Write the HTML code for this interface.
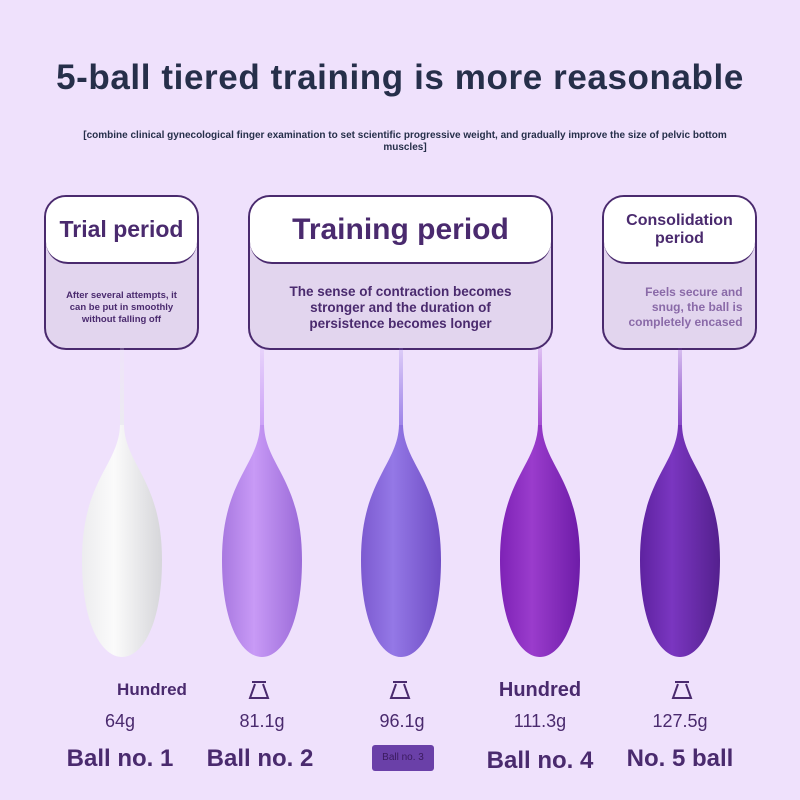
<!DOCTYPE html>
<html><head><meta charset="utf-8"><style>
body{margin:0;width:800px;height:800px;background:#efe1fc;font-family:"Liberation Sans",sans-serif;position:relative;overflow:hidden}
.t{position:absolute;text-align:center;color:#262f4a;font-weight:bold}
.box{position:absolute;top:195px;height:151px;border:2px solid #4a2a6e;border-radius:22px;background:#e2d5ee;overflow:hidden}
.hd{position:absolute;left:0;right:0;top:0;height:65px;background:#fff;border-bottom:2px solid #4a2a6e;border-radius:0 0 22px 22px;display:flex;align-items:center;justify-content:center;text-align:center;color:#4a2a6e;font-weight:bold}
.bd{position:absolute;left:0;right:0;top:70px;bottom:0;display:flex;align-items:center;justify-content:center;text-align:center;font-weight:bold;color:#4a2a6e}
.l{position:absolute;color:#4a2a6e;text-align:center;transform:translateX(-50%);white-space:nowrap}
</style></head><body>
<div class="t" style="left:0;width:800px;top:58px;font-size:35px;letter-spacing:0.6px">5-ball tiered training is more reasonable</div>
<div class="t" style="left:30px;width:750px;top:130px;font-size:10px;line-height:12px">[combine clinical gynecological finger examination to set scientific progressive weight, and gradually improve the size of pelvic bottom<br>muscles]</div>
<div class="box" style="left:44px;width:151px"><div class="hd" style="font-size:23px">Trial period</div><div class="bd" style="font-size:9.5px;line-height:12px">After several attempts, it<br>can be put in smoothly<br>without falling off</div></div>
<div class="box" style="left:248px;width:301px"><div class="hd" style="font-size:30px">Training period</div><div class="bd" style="font-size:13.5px;line-height:16px">The sense of contraction becomes<br>stronger and the duration of<br>persistence becomes longer</div></div>
<div class="box" style="left:602px;width:151px"><div class="hd" style="font-size:16px;line-height:18px">Consolidation<br>period</div><div class="bd" style="font-size:12px;line-height:15px;color:#8a6aa8;text-align:right;padding-left:12px">Feels secure and<br>snug, the ball is<br>completely encased</div></div>
<svg width="800" height="800" style="position:absolute;left:0;top:0">
<defs>
<linearGradient id="g1" x1="0" x2="1"><stop offset="0" stop-color="#ececee"/><stop offset=".4" stop-color="#fbfbfb"/><stop offset="1" stop-color="#d6d6da"/></linearGradient>
<linearGradient id="g2" x1="0" x2="1"><stop offset="0" stop-color="#a878e0"/><stop offset=".4" stop-color="#c89af6"/><stop offset="1" stop-color="#9a6ad8"/></linearGradient>
<linearGradient id="g3" x1="0" x2="1"><stop offset="0" stop-color="#7c5ad0"/><stop offset=".4" stop-color="#9478e6"/><stop offset="1" stop-color="#6e4cc4"/></linearGradient>
<linearGradient id="g4" x1="0" x2="1"><stop offset="0" stop-color="#7e22b6"/><stop offset=".4" stop-color="#9a3ccc"/><stop offset="1" stop-color="#6e1ca8"/></linearGradient>
<linearGradient id="g5" x1="0" x2="1"><stop offset="0" stop-color="#5e22a0"/><stop offset=".4" stop-color="#7a36c0"/><stop offset="1" stop-color="#54208e"/></linearGradient>
</defs>
<g id="balls"></g>
<g fill="none" stroke="#4a2a6e" stroke-width="2">
<path d="M252 682h14M255 684l-5 14h18l-5-14"/>
<path d="M393 682h14M396 684l-5 14h18l-5-14"/>
<path d="M675 682h14M678 684l-5 14h18l-5-14"/>
</g>
<rect x="372" y="745" width="62" height="26" rx="3" fill="#6a40a8"/>
</svg>
<div class="l" style="left:152px;top:680px;font-size:17px;font-weight:bold">Hundred</div>
<div class="l" style="left:540px;top:679px;font-size:20px;font-weight:bold">Hundred</div>
<div class="l" style="left:120px;top:711px;font-size:18px">64g</div>
<div class="l" style="left:262px;top:711px;font-size:18px">81.1g</div>
<div class="l" style="left:402px;top:711px;font-size:18px">96.1g</div>
<div class="l" style="left:540px;top:711px;font-size:18px">111.3g</div>
<div class="l" style="left:680px;top:711px;font-size:18px">127.5g</div>
<div class="l" style="left:120px;top:745px;font-size:24px;font-weight:bold">Ball no. 1</div>
<div class="l" style="left:260px;top:745px;font-size:24px;font-weight:bold">Ball no. 2</div>
<div class="l" style="left:403px;top:752px;font-size:10px;color:#3a1a5e">Ball no. 3</div>
<div class="l" style="left:540px;top:747px;font-size:24px;font-weight:bold">Ball no. 4</div>
<div class="l" style="left:680px;top:745px;font-size:24px;font-weight:bold">No. 5 ball</div>
<script>
var cs=[122,262,401,540,680],s='';
var tc=['#ececf0','#c89af6','#9478e6','#9a3ccc','#7a36c0'];
cs.forEach(function(c,i){var f='url(#g'+(i+1)+')';
s+='<linearGradient id="t'+i+'" x1="0" y1="0" x2="0" y2="1"><stop offset="0" stop-color="'+tc[i]+'" stop-opacity="0.2"/><stop offset="1" stop-color="'+tc[i]+'"/></linearGradient>';
s+='<rect x="'+(c-2)+'" y="348" width="4" height="90" fill="url(#t'+i+')"/>';
s+='<path d="M'+(c-2)+' 425 C'+(c-3)+' 465 '+(c-40)+' 480 '+(c-40)+' 560 C'+(c-40)+' 625 '+(c-20)+' 657 '+c+' 657 C'+(c+20)+' 657 '+(c+40)+' 625 '+(c+40)+' 560 C'+(c+40)+' 480 '+(c+3)+' 465 '+(c+2)+' 425 Z" fill="'+f+'"/>';});
document.getElementById('balls').innerHTML=s;
</script>
</body></html>
